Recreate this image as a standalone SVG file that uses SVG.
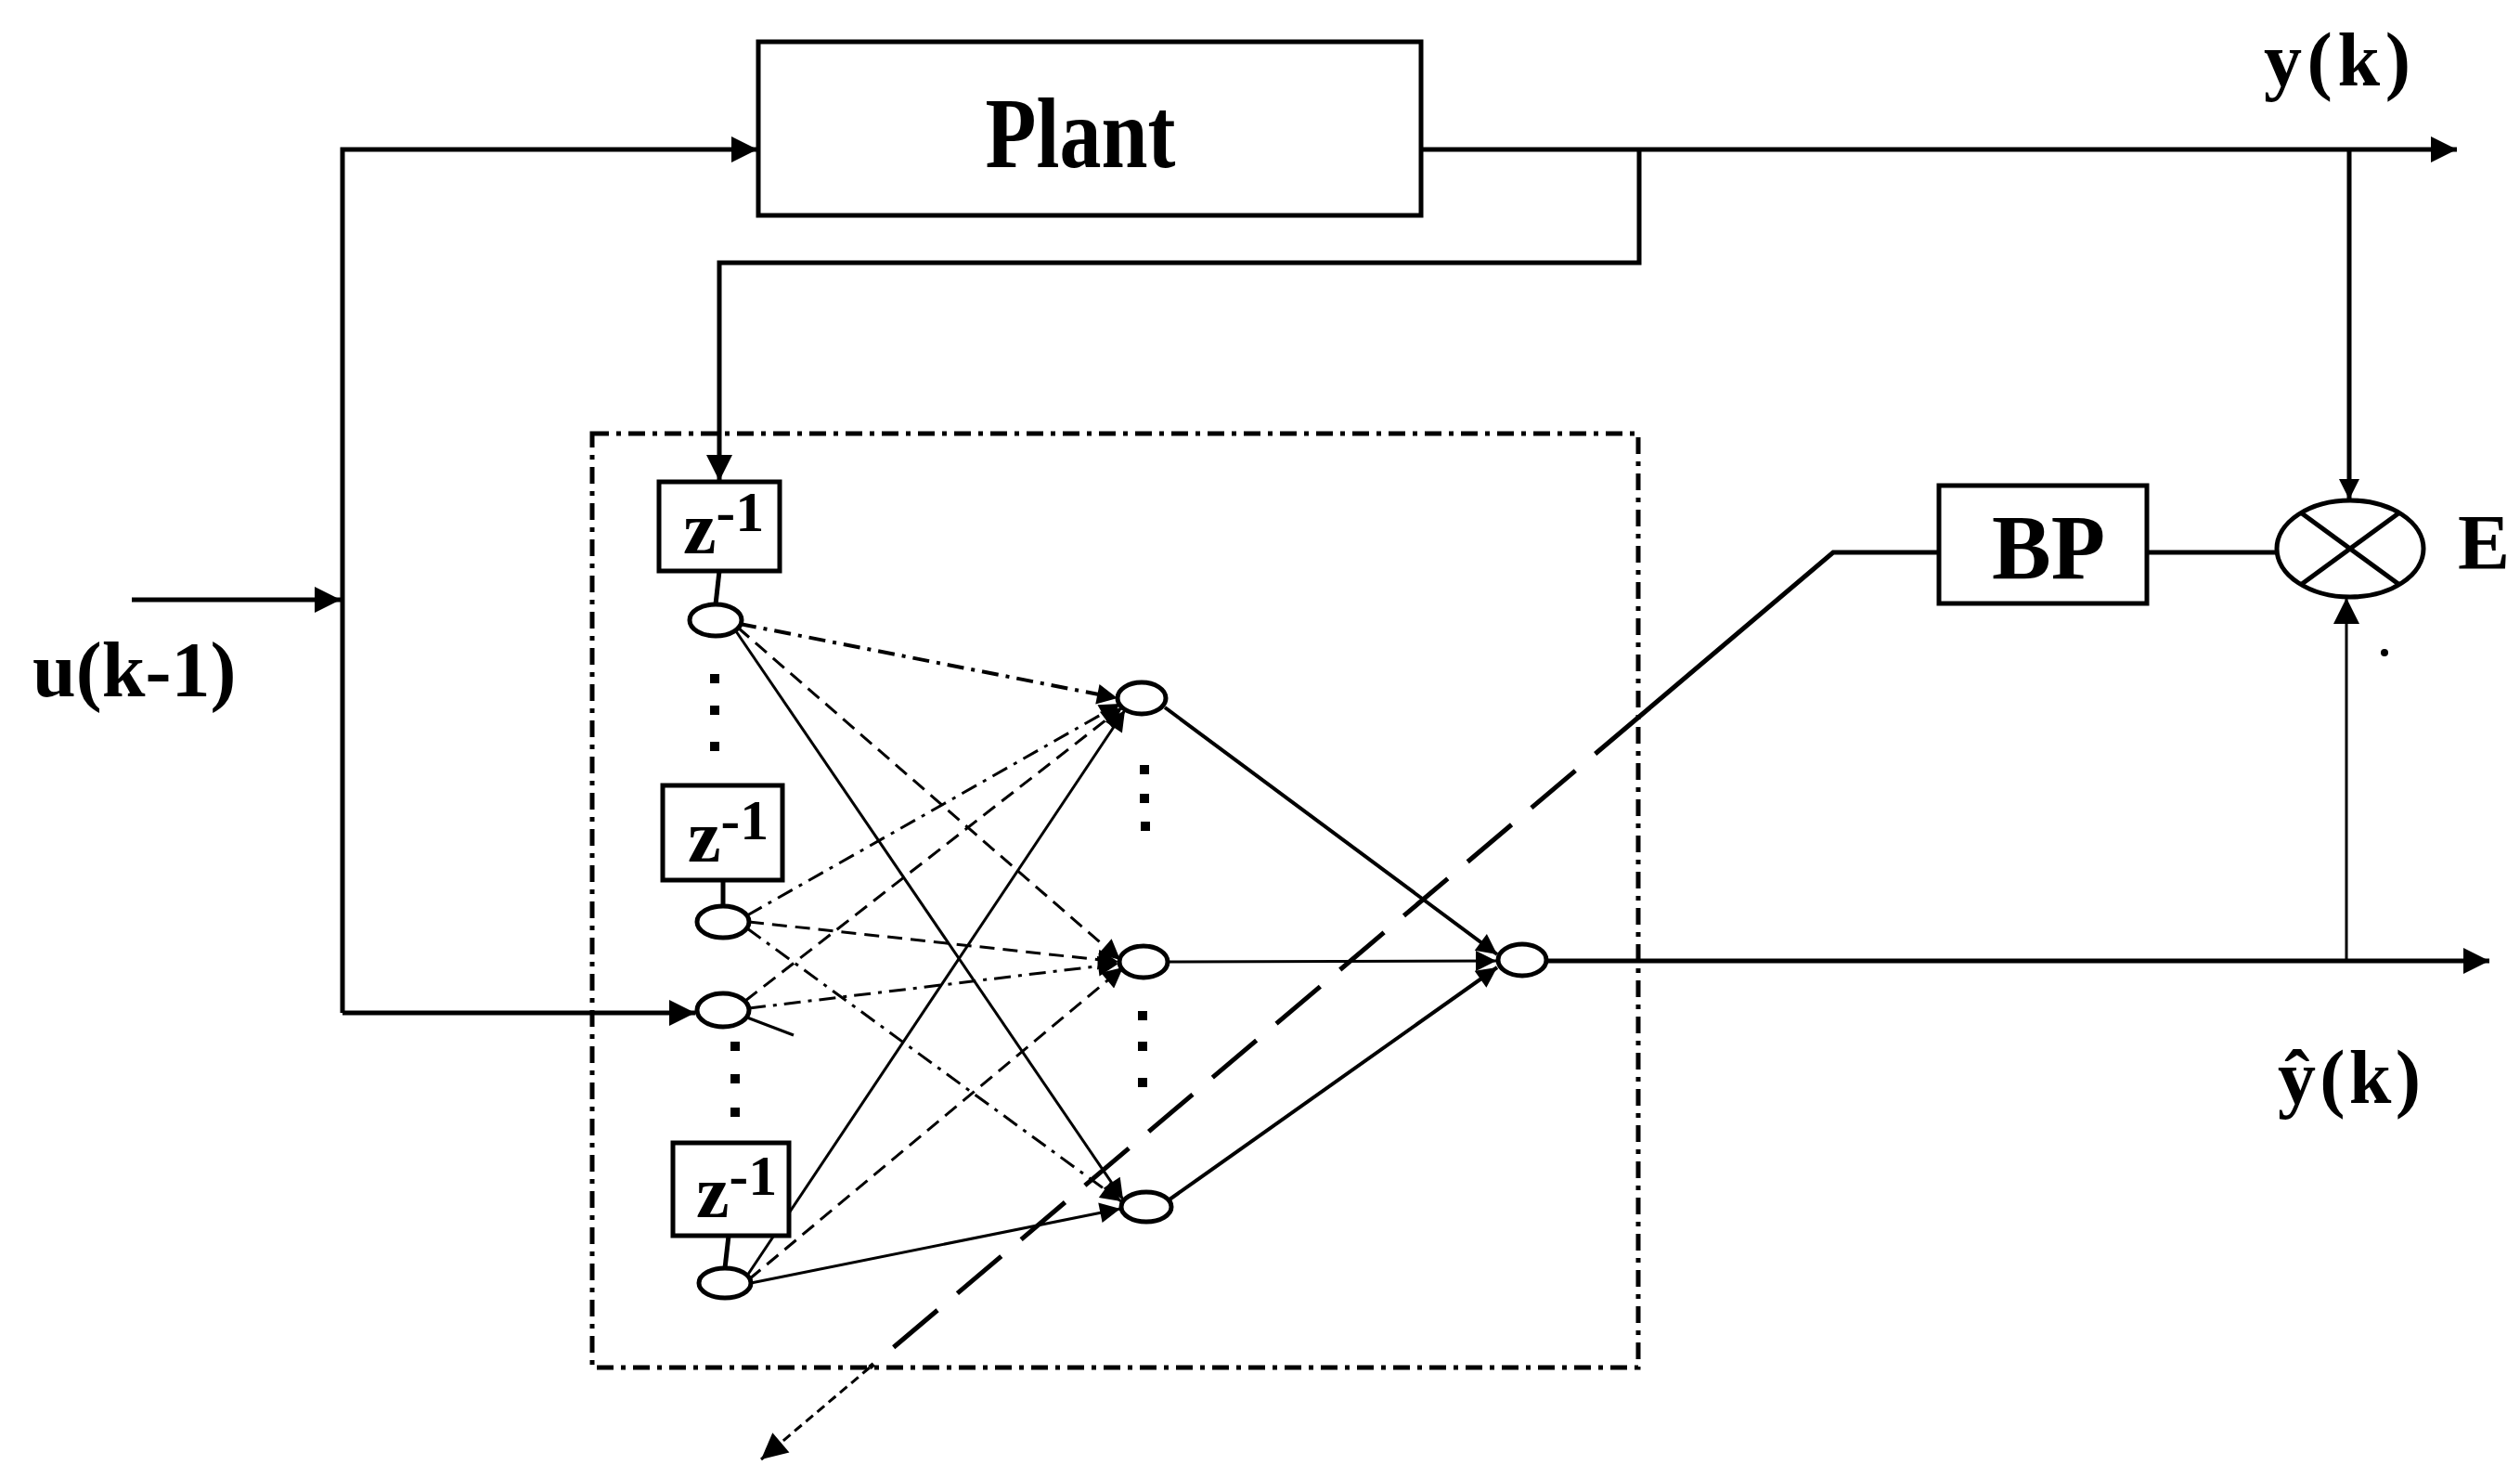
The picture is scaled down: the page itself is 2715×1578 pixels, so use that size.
<svg xmlns="http://www.w3.org/2000/svg" width="2715" height="1578" viewBox="0 0 2715 1578">
<style>
.bg{fill:#ffffff}
.box{fill:#ffffff;stroke:#000;stroke-width:5}
.node{fill:#ffffff;stroke:#000;stroke-width:5}
.wire{fill:none;stroke:#000;stroke-width:5}
.net{fill:none;stroke:#000;stroke-width:3}
.dash{stroke-dasharray:16 9}
.dashdot{stroke-dasharray:18 8 4 8}
.frame{fill:none;stroke:#000;stroke-width:5;stroke-dasharray:18 8 5 8}
.lbl{font-family:"Liberation Serif","Times New Roman",serif;font-weight:bold;fill:#000}
.plain{font-family:"Liberation Serif","Times New Roman",serif;fill:#000}
.dot{fill:#000}
</style>
<defs>
<marker id="ah" viewBox="0 0 10 10" refX="10" refY="5" markerWidth="50" markerHeight="28" markerUnits="userSpaceOnUse" orient="auto"><path d="M0,0 L10,5 L0,10 z" fill="#000"/></marker>
<marker id="as" viewBox="0 0 10 10" refX="10" refY="5" markerWidth="36" markerHeight="22" markerUnits="userSpaceOnUse" orient="auto"><path d="M0,0 L10,5 L0,10 z" fill="#000"/></marker>
</defs>
<rect class="bg" x="0" y="0" width="2715" height="1578"/>

<g id="nn-frame">
<rect class="frame" x="638" y="467" width="1127" height="1006"/>
</g>

<g id="connectors">
<!-- u(k-1) input -->
<line class="wire" x1="142" y1="646" x2="367" y2="646" marker-end="url(#ah)"/>
<polyline class="wire" points="369,1091 369,161 816,161" marker-end="url(#ah)"/>
<line class="wire" x1="369" y1="1091" x2="749" y2="1091" marker-end="url(#ah)"/>
<!-- plant output -->
<line class="wire" x1="1531" y1="161" x2="2647" y2="161" marker-end="url(#ah)"/>
<polyline class="wire" points="1766,161 1766,283 775,283 775,518" marker-end="url(#ah)"/>
<line class="wire" x1="2531" y1="161" x2="2531" y2="538" marker-end="url(#as)"/>
<!-- network output -->
<line class="wire" x1="1667" y1="1035" x2="2682" y2="1035" marker-end="url(#ah)"/>
<line class="net" x1="2528" y1="1035" x2="2528" y2="644" marker-end="url(#ah)"/>
<!-- BP -->
<line class="wire" x1="2313" y1="595" x2="2453" y2="595"/>
<polyline class="wire" points="2089,595 1975,595 1766,772"/>
<line class="wire" x1="1766" y1="772" x2="937" y2="1473" style="stroke-dasharray:62 28"/>
<line class="net" x1="937" y1="1473" x2="820" y2="1572" style="stroke-dasharray:10 6" marker-end="url(#ah)"/>
<!-- delay to node -->
<line class="wire" x1="775" y1="615" x2="771" y2="651"/>
<line class="wire" x1="779" y1="948" x2="779" y2="976"/>
<line class="wire" x1="785" y1="1331" x2="781" y2="1366"/>
<!-- input -> hidden -->
<line class="net dashdot" x1="797" y1="672" x2="1204" y2="752" style="stroke-width:4" marker-end="url(#as)"/>
<line class="net dash" x1="795" y1="676" x2="1207" y2="1034" marker-end="url(#as)"/>
<line class="net" x1="793" y1="680" x2="1210" y2="1292" marker-end="url(#as)"/>
<line class="net dashdot" x1="805" y1="986" x2="1207" y2="758" marker-end="url(#as)"/>
<line class="net dash" x1="807" y1="993" x2="1205" y2="1036" marker-end="url(#as)"/>
<line class="net dashdot" x1="805" y1="1000" x2="1208" y2="1294" marker-end="url(#as)"/>
<line class="net dash" x1="803" y1="1078" x2="1209" y2="762" marker-end="url(#as)"/>
<line class="net dashdot" x1="807" y1="1086" x2="1205" y2="1038" marker-end="url(#as)"/>
<line class="net" x1="805" y1="1096" x2="855" y2="1115"/>
<line class="net" x1="805" y1="1374" x2="1212" y2="765" marker-end="url(#as)"/>
<line class="net dash" x1="807" y1="1378" x2="1210" y2="1042" marker-end="url(#as)"/>
<line class="net" x1="809" y1="1382" x2="1207" y2="1302" marker-end="url(#as)"/>
<!-- hidden -> output -->
<line class="net" x1="1255" y1="762" x2="1613" y2="1028" style="stroke-width:4" marker-end="url(#as)"/>
<line class="net" x1="1259" y1="1036" x2="1612" y2="1035" marker-end="url(#as)"/>
<line class="net" x1="1260" y1="1292" x2="1613" y2="1042" style="stroke-width:4" marker-end="url(#as)"/>
</g>

<g id="plant">
<rect class="box" x="817" y="45" width="714" height="187"/>
<text class="lbl" x="1164" y="180" font-size="108" text-anchor="middle" textLength="205" lengthAdjust="spacingAndGlyphs">Plant</text>
</g>

<g id="z1">
<rect class="box" x="710" y="519" width="130" height="96"/>
<text class="lbl" x="736" y="596" font-size="80">z<tspan font-size="62" dy="-24">-1</tspan></text>
</g>
<g id="z2">
<rect class="box" x="714" y="846" width="129" height="102"/>
<text class="lbl" x="741" y="928" font-size="80">z<tspan font-size="62" dy="-24">-1</tspan></text>
</g>
<g id="z3">
<rect class="box" x="725" y="1231" width="125" height="100"/>
<text class="lbl" x="750" y="1311" font-size="80">z<tspan font-size="62" dy="-24">-1</tspan></text>
</g>

<g id="in1"><ellipse class="node" cx="771" cy="668" rx="28" ry="17"/></g>
<g id="in2"><ellipse class="node" cx="779" cy="993" rx="28" ry="17"/></g>
<g id="in3"><ellipse class="node" cx="779" cy="1088" rx="28" ry="18"/></g>
<g id="in4"><ellipse class="node" cx="781" cy="1382" rx="28" ry="16"/></g>
<g id="in-dots">
<rect class="dot" x="765" y="726" width="10" height="10"/>
<rect class="dot" x="765" y="760" width="10" height="10"/>
<rect class="dot" x="765" y="799" width="10" height="10"/>
<rect class="dot" x="787" y="1122" width="10" height="10"/>
<rect class="dot" x="787" y="1157" width="10" height="10"/>
<rect class="dot" x="787" y="1193" width="10" height="10"/>
</g>

<g id="h1"><ellipse class="node" cx="1230" cy="752" rx="26" ry="17"/></g>
<g id="h2"><ellipse class="node" cx="1232" cy="1036" rx="26" ry="17"/></g>
<g id="h3"><ellipse class="node" cx="1235" cy="1300" rx="27" ry="16"/></g>
<g id="hid-dots">
<rect class="dot" x="1228" y="824" width="10" height="10"/>
<rect class="dot" x="1228" y="855" width="10" height="10"/>
<rect class="dot" x="1229" y="885" width="10" height="10"/>
<rect class="dot" x="1226" y="1089" width="10" height="10"/>
<rect class="dot" x="1226" y="1122" width="10" height="10"/>
<rect class="dot" x="1226" y="1161" width="10" height="10"/>
</g>

<g id="out"><ellipse class="node" cx="1640" cy="1034" rx="26" ry="17"/></g>

<g id="bp">
<rect class="box" x="2089" y="523" width="224" height="127"/>
<text class="lbl" x="2207" y="623" font-size="100" text-anchor="middle" textLength="122" lengthAdjust="spacingAndGlyphs">BP</text>
</g>

<g id="sum">
<ellipse class="node" cx="2532" cy="591" rx="79" ry="52"/>
<line class="wire" x1="2480" y1="553" x2="2584" y2="629"/>
<line class="wire" x1="2584" y1="553" x2="2480" y2="629"/>
<circle class="dot" cx="2569" cy="703" r="4"/>
</g>

<g id="labels">
<text class="lbl" x="35" y="750" font-size="84">u(k-1)</text>
<text class="lbl" x="2439" y="92" font-size="82" textLength="158" lengthAdjust="spacing">y(k)</text>
<text class="lbl" x="2454" y="1188" font-size="82" textLength="154" lengthAdjust="spacing">ŷ(k)</text>
<text class="lbl" x="2648" y="613" font-size="84">E</text>
</g>
</svg>
